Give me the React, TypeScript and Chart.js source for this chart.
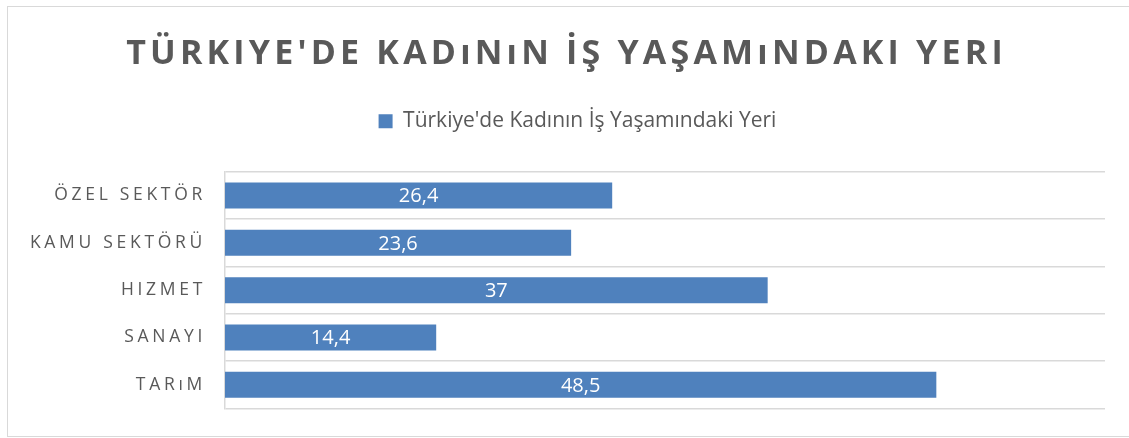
import React, { useEffect, useRef } from 'react';
import { Chart, registerables } from 'chart.js';

Chart.register(...registerables);

const categories = ['ÖZEL SEKTÖR', 'KAMU SEKTÖRÜ', 'HIZMET', 'SANAYI', 'TARıM'];
const values = [26.4, 23.6, 37, 14.4, 48.5];
const seriesName = "Türkiye'de Kadının İş Yaşamındaki Yeri";
const titleText = "TÜRKIYE'DE KADıNıN İŞ YAŞAMıNDAKI YERI";
const xMin = 0;
const xMax = 60;

const BAR = '#4F81BD';
const TEXT = '#595959';
const GRID = '#d9d9d9';
const FONT = "'Open Sans', 'Noto Sans', sans-serif";

const spacingPlugin = {
  id: 'spacing',
  beforeInit(chart: any) {
    const lg = chart.legend;
    if (lg && !lg.__fitWrapped) {
      const origFit = lg.fit.bind(lg);
      lg.fit = function () {
        origFit();
        this.height += 30;
      };
      lg.__fitWrapped = true;
    }
  },
  beforeDraw(chart: any) {
    const ctx = chart.ctx;
    const y = chart.scales.y;
    if (y && !y.__wrapped) {
      const orig = y.drawLabels.bind(y);
      y.drawLabels = (ca: any) => {
        ctx.save();
        ctx.letterSpacing = '3.7px';
        orig(ca);
        ctx.restore();
      };
      y.__wrapped = true;
    }
    const t = chart.titleBlock;
    if (t && !t.__wrapped) {
      const orig = t.draw.bind(t);
      t.draw = (ca: any) => {
        ctx.save();
        ctx.letterSpacing = '4.2px';
        ctx.translate(14, 0);
        orig(ca);
        ctx.restore();
      };
      t.__wrapped = true;
    }
    const lg = chart.legend;
    if (lg && !lg.__drawWrapped) {
      const orig = lg.draw.bind(lg);
      lg.draw = (ca: any) => {
        ctx.save();
        ctx.translate(25, 0);
        orig(ca);
        ctx.restore();
      };
      lg.__drawWrapped = true;
    }
  },
};

const labelPlugin = {
  id: 'barLabels',
  afterDatasetsDraw(chart: any) {
    const ctx = chart.ctx;
    const meta = chart.getDatasetMeta(0);
    ctx.save();
    ctx.fillStyle = '#ffffff';
    ctx.font = `20px ${FONT}`;
    ctx.textAlign = 'center';
    ctx.textBaseline = 'middle';
    meta.data.forEach((el: any, i: number) => {
      const v = chart.data.datasets[0].data[i];
      const cx = (el.x + el.base) / 2;
      ctx.fillText(String(v).replace('.', ','), cx, el.y + 1);
    });
    ctx.restore();
  },
};

export default function App() {
  const ref = useRef<HTMLCanvasElement>(null);
  useEffect(() => {
    if (!ref.current) return;
    const chart = new Chart(ref.current, {
      type: 'bar',
      data: {
        labels: categories,
        datasets: [
          {
            label: seriesName,
            data: values,
            backgroundColor: BAR,
            borderWidth: 0,
            barPercentage: 0.55,
            categoryPercentage: 1,
          },
        ],
      },
      options: {
        indexAxis: 'y',
        animation: false,
        responsive: false,
        maintainAspectRatio: false,
        layout: { padding: { left: 0, right: 24, top: 0, bottom: 29 } },
        plugins: {
          title: {
            display: true,
            text: titleText,
            color: TEXT,
            font: { family: FONT, size: 34, weight: 'bold' },
            padding: { top: 34, bottom: 26 },
          },
          legend: {
            display: true,
            position: 'top',
            labels: {
              color: TEXT,
              font: { family: FONT, size: 21 },
              boxWidth: 14,
              boxHeight: 14,
              padding: 10,
            },
          },
          tooltip: { enabled: false },
        },
        scales: {
          x: {
            display: false,
            min: xMin,
            max: xMax,
          },
          y: {
            afterFit(scale: any) {
              scale.width = 225;
            },
            grid: { display: true, color: GRID, lineWidth: 1.5, offset: true, drawTicks: false },
            border: { display: true, color: GRID, width: 1.5 },
            ticks: {
              color: TEXT,
              font: { family: FONT, size: 17.5 },
              padding: 19,
            },
          },
        },
      },
      plugins: [spacingPlugin, labelPlugin],
    });
    return () => chart.destroy();
  }, []);
  return (
    <div style={{ position: 'fixed', left: 0, top: 0, width: 1129, height: 438, background: '#fff', overflow: 'hidden' }}>
      <div
        style={{
          position: 'absolute',
          left: 7,
          top: 6,
          width: 1200,
          height: 429,
          border: '1.5px solid #d9d9d9',
          boxSizing: 'content-box',
        }}
      />
      <canvas ref={ref} width={1129} height={438} style={{ position: 'absolute', left: 0, top: 0, width: 1129, height: 438 }} />
    </div>
  );
}
